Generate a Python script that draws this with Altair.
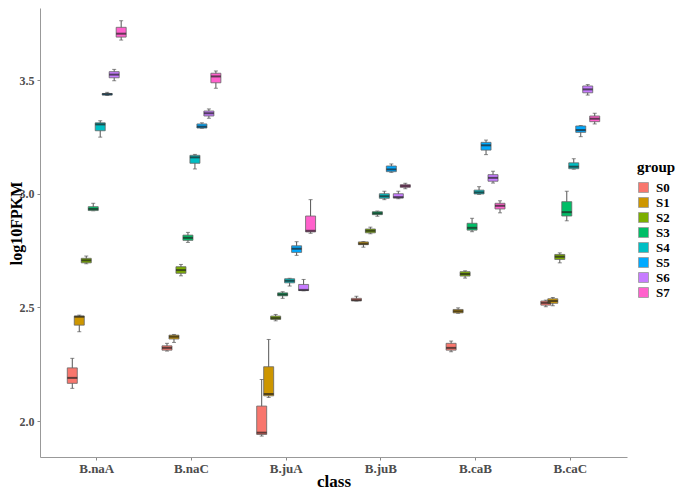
import altair as alt
import pandas as pd

classes = ["B.naA", "B.naC", "B.juA", "B.juB", "B.caB", "B.caC"]
groups = ["S0", "S1", "S2", "S3", "S4", "S5", "S6", "S7"]
colors = ["#F8766D", "#CD9600", "#7CAE00", "#00BE67", "#00BFC4", "#00A9FF", "#C77CFF", "#FF61CC"]

# five-number summaries per class, in group order S0..S7: (min, q1, median, q3, max)
stats = {
    "B.naA": [(2.144, 2.166, 2.190, 2.234, 2.276), (2.393, 2.422, 2.459, 2.462, 2.466),
              (2.692, 2.696, 2.707, 2.716, 2.726), (2.925, 2.926, 2.933, 2.943, 2.958),
              (3.249, 3.277, 3.305, 3.312, 3.321), (3.432, 3.434, 3.438, 3.441, 3.446),
              (3.497, 3.510, 3.524, 3.537, 3.547), (3.676, 3.689, 3.704, 3.732, 3.761)],
    "B.naC": [(2.308, 2.312, 2.322, 2.331, 2.342), (2.346, 2.361, 2.371, 2.378, 2.381),
              (2.639, 2.650, 2.664, 2.679, 2.689), (2.786, 2.795, 2.806, 2.818, 2.830),
              (3.109, 3.134, 3.160, 3.169, 3.173), (3.288, 3.289, 3.295, 3.307, 3.312),
              (3.332, 3.342, 3.354, 3.364, 3.373), (3.464, 3.488, 3.516, 3.530, 3.540)],
    "B.juA": [(1.934, 1.941, 1.949, 2.066, 2.183), (2.104, 2.111, 2.119, 2.239, 2.359),
              (2.441, 2.447, 2.453, 2.462, 2.469), (2.540, 2.551, 2.557, 2.564, 2.569),
              (2.594, 2.608, 2.617, 2.626, 2.628), (2.729, 2.742, 2.758, 2.771, 2.789),
              (2.573, 2.574, 2.577, 2.601, 2.623), (2.826, 2.832, 2.837, 2.902, 2.974)],
    "B.juB": [(2.528, 2.529, 2.532, 2.540, 2.549), (2.765, 2.776, 2.780, 2.788, 2.790),
              (2.824, 2.828, 2.837, 2.845, 2.853), (2.901, 2.908, 2.914, 2.921, 2.924),
              (2.974, 2.980, 2.989, 3.000, 3.011), (3.094, 3.097, 3.107, 3.122, 3.131),
              (2.978, 2.981, 2.985, 3.000, 3.011), (3.022, 3.028, 3.034, 3.040, 3.046)],
    "B.caB": [(2.305, 2.312, 2.322, 2.342, 2.352), (2.474, 2.476, 2.483, 2.491, 2.498),
              (2.629, 2.638, 2.647, 2.657, 2.661), (2.833, 2.840, 2.850, 2.870, 2.892),
              (2.997, 2.999, 3.006, 3.016, 3.031), (3.172, 3.192, 3.213, 3.226, 3.236),
              (3.047, 3.055, 3.070, 3.084, 3.099), (2.916, 2.933, 2.947, 2.958, 2.969)],
    "B.caC": [(2.503, 2.510, 2.520, 2.528, 2.532), (2.507, 2.518, 2.528, 2.538, 2.544),
              (2.696, 2.711, 2.723, 2.733, 2.740), (2.881, 2.902, 2.919, 2.965, 3.011),
              (3.108, 3.110, 3.119, 3.136, 3.154), (3.251, 3.270, 3.280, 3.298, 3.300),
              (3.434, 3.444, 3.459, 3.474, 3.480), (3.307, 3.317, 3.330, 3.342, 3.354)],
}

rows = []
for c in classes:
    for g, (mn, q1, md, q3, mx) in zip(groups, stats[c]):
        rows.append(dict(cls=c, group=g, lo=mn, q1=q1, med=md, q3=q3, hi=mx))
df = pd.DataFrame(rows)

FONT = "Liberation Serif"

x = alt.X("cls:N", sort=classes, title="class",
          scale=alt.Scale(paddingInner=0.41, paddingOuter=0.304),
          axis=alt.Axis(labelAngle=0, labelFont=FONT, labelFontWeight="bold", labelFontSize=13,
                        labelColor="#4d4d4d", titleFont=FONT, titleFontWeight="bold",
                        titleFontSize=17, titleColor="#000000", titleBaseline="alphabetic",
                        titleY=29, tickSize=3, tickColor="#888888",
                        domainColor="#999999", labelPadding=2))
xo = alt.XOffset("group:N", sort=groups, scale=alt.Scale(paddingInner=0, paddingOuter=0))

yscale = alt.Scale(domain=[1.842, 3.817], nice=False, zero=False)
yaxis = alt.Axis(values=[2.0, 2.5, 3.0, 3.5], format=".1f", grid=False, labelFont=FONT,
                 labelFontWeight="bold", labelFontSize=12, labelColor="#4d4d4d",
                 titleFont=FONT, titleFontWeight="bold", titleFontSize=16, titleColor="#000000",
                 titleX=-32, titleY=215, titleBaseline="top", titleAngle=270,
                 tickSize=3, tickColor="#888888", domainColor="#999999", labelPadding=3)

base = alt.Chart(df)

whisk = base.mark_rule(color="#555555", strokeWidth=1).encode(
    x=x, xOffset=xo,
    y=alt.Y("lo:Q", scale=yscale, axis=yaxis, title="log10FPKM"),
    y2="hi:Q")

cap_lo = base.mark_tick(orient="horizontal", size=4, thickness=1, color="#555555").encode(
    x=x, xOffset=xo, y=alt.Y("lo:Q", scale=yscale))
cap_hi = base.mark_tick(orient="horizontal", size=4, thickness=1, color="#555555").encode(
    x=x, xOffset=xo, y=alt.Y("hi:Q", scale=yscale))

box = base.mark_bar(size=10, stroke="#666666", strokeWidth=0.8, opacity=1).encode(
    x=x, xOffset=xo,
    y=alt.Y("q1:Q", scale=yscale), y2="q3:Q",
    fill=alt.Fill("group:N", sort=groups, title="group",
                  scale=alt.Scale(domain=groups, range=colors),
                  legend=alt.Legend(orient="none", legendX=597, legendY=152,
                                    symbolType="square", symbolSize=100,
                                    symbolStrokeColor="#999999", symbolStrokeWidth=0.8,
                                    titleFont=FONT, titleFontWeight="bold", titleFontSize=15,
                                    titleColor="#000000", labelFont=FONT,
                                    labelFontWeight="bold", labelFontSize=13,
                                    labelColor="#000000", rowPadding=0, titlePadding=6,
                                    labelOffset=6)))

med = base.mark_tick(orient="horizontal", size=10, thickness=2, color="#222222").encode(
    x=x, xOffset=xo, y=alt.Y("med:Q", scale=yscale))

chart = alt.layer(whisk, cap_lo, cap_hi, box, med).properties(
    width=587, height=449,
    background="white",
    autosize=alt.AutoSizeParams(type="none"),
    padding={"left": 32, "top": 0, "right": 50, "bottom": 32},
).configure_view(strokeWidth=0, stroke="transparent")

chart.save("out.html", embed_options={"renderer": "svg", "actions": False})
